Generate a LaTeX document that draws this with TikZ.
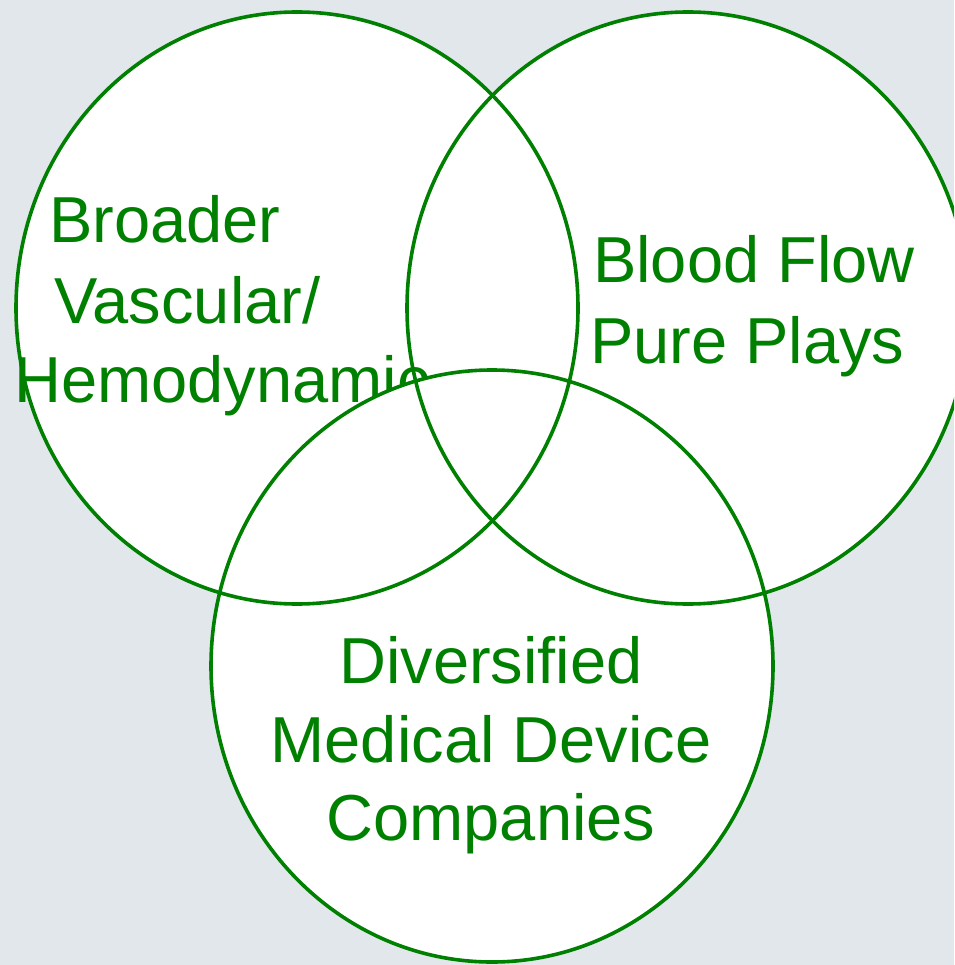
\documentclass[tikz,border=0pt]{standalone}
\usepackage{fontspec}
\setmainfont{Liberation Sans}
\definecolor{venngreen}{HTML}{008000}
\definecolor{pagebg}{HTML}{E2E7EC}
\tikzset{
  vennline/.style={draw=venngreen, line width=3.6pt},
  venntext/.style={text=venngreen, inner sep=0pt, font=\fontsize{65}{80}\selectfont}
}
\begin{document}
\begin{tikzpicture}[x=1pt, y=-1pt]
        % page and clipping
        \useasboundingbox (0,0) rectangle (954,965);
        \fill[pagebg] (0,0) rectangle (954,965);
        \clip (0,0) rectangle (954,965);
        % upper sets, their fills and the left label
        \foreach \cx/\cy in {297/308,688/308}
            \fill[white] (\cx,\cy) ellipse [x radius=281, y radius=296];
        \node[venntext, anchor=base west] (vasc1) at (49,243) {Broader};
        \node[venntext, anchor=base west] (vasc2) at (54,323) {Vascular/};
        \node[venntext, anchor=base west] (vasc3) at (14,402) {Hemodynamic};
        % lower set covers the end of the left label
        \fill[white] (492,666) ellipse [x radius=281, y radius=296];
        \foreach \cx/\cy in {297/308,688/308,492/666}
            \draw[vennline] (\cx,\cy) ellipse [x radius=281, y radius=296];
        % other labels
        \node[venntext, anchor=base west] (flow1) at (593,283) {Blood Flow};
        \node[venntext, anchor=base west] (flow2) at (590,363) {Pure Plays};
        \foreach \txt/\by [count=\i] in {Diversified/683,Medical Device/762,Companies/840}
            \node[venntext, anchor=base] (med\i) at (491,\by) {\txt};
    \end{tikzpicture}
\end{document}
